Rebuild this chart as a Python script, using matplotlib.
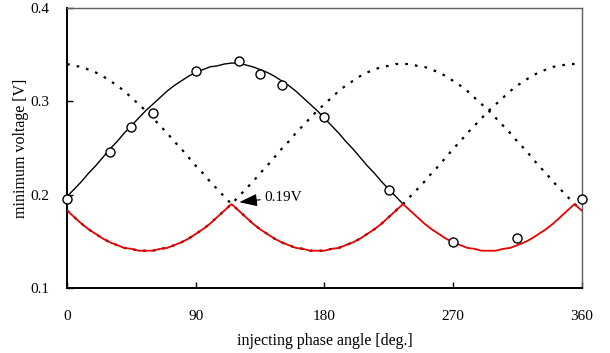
# Minimum voltage versus injecting phase angle, three phase curves and their lower envelope.

import numpy as np
import matplotlib
matplotlib.use("Agg")
import matplotlib.pyplot as plt

plt.rcParams['font.family'] = ['Liberation Serif', 'DejaVu Serif']
plt.rcParams['mathtext.fontset'] = 'stix'

# Angles of the simulated curves (deg.).
angle = list(range(0, 365, 5))

# Curve with maximum near 115 deg. (solid line up to 235 deg.).
curve_a = [0.198, 0.206, 0.214, 0.223, 0.231, 0.240, 0.249, 0.257, 0.266, 0.274,
           0.282, 0.290, 0.297, 0.304, 0.311, 0.317, 0.322, 0.327, 0.331, 0.334,
           0.337, 0.338, 0.340, 0.341, 0.341, 0.339, 0.337, 0.334, 0.331, 0.327,
           0.322, 0.317, 0.311, 0.304, 0.297, 0.290, 0.282, 0.274, 0.266, 0.257,
           0.249, 0.240, 0.231, 0.223, 0.214, 0.206, 0.198, 0.190, 0.183, 0.176,
           0.169, 0.163, 0.158, 0.153, 0.149, 0.146, 0.143, 0.142, 0.140, 0.140,
           0.140, 0.142, 0.143, 0.146, 0.149, 0.153, 0.158, 0.163, 0.169, 0.176,
           0.183, 0.190, 0.198]
# Curve with maximum near 235 deg.
curve_b = [0.183, 0.176, 0.169, 0.163, 0.158, 0.153, 0.149, 0.146, 0.143, 0.142,
           0.140, 0.140, 0.140, 0.142, 0.143, 0.146, 0.149, 0.153, 0.158, 0.163,
           0.169, 0.176, 0.183, 0.190, 0.198, 0.206, 0.214, 0.223, 0.231, 0.240,
           0.249, 0.257, 0.266, 0.274, 0.282, 0.290, 0.297, 0.304, 0.311, 0.317,
           0.322, 0.327, 0.331, 0.334, 0.337, 0.338, 0.340, 0.340, 0.340, 0.338,
           0.337, 0.334, 0.331, 0.327, 0.322, 0.317, 0.311, 0.304, 0.297, 0.290,
           0.282, 0.274, 0.266, 0.257, 0.249, 0.240, 0.231, 0.223, 0.214, 0.206,
           0.198, 0.190, 0.183]
# Curve with maximum near 355 deg.
curve_c = [0.340, 0.338, 0.337, 0.334, 0.331, 0.327, 0.322, 0.317, 0.311, 0.304,
           0.297, 0.290, 0.282, 0.274, 0.266, 0.257, 0.249, 0.240, 0.231, 0.223,
           0.214, 0.206, 0.198, 0.190, 0.183, 0.176, 0.169, 0.163, 0.158, 0.153,
           0.149, 0.146, 0.143, 0.142, 0.140, 0.140, 0.140, 0.142, 0.143, 0.146,
           0.149, 0.153, 0.158, 0.163, 0.169, 0.176, 0.183, 0.190, 0.198, 0.206,
           0.214, 0.223, 0.231, 0.240, 0.249, 0.257, 0.266, 0.274, 0.282, 0.290,
           0.297, 0.304, 0.311, 0.317, 0.322, 0.327, 0.331, 0.334, 0.337, 0.338,
           0.340, 0.340, 0.340]
solid_end = 235

# Measured points.
meas_angle = [0, 30, 45, 60, 90, 120, 135, 150, 180, 225, 270, 315, 360]
meas_volt = [0.195, 0.246, 0.272, 0.287, 0.333, 0.343, 0.329, 0.317, 0.283,
             0.205, 0.149, 0.154, 0.195]

x_ticks = [0, 90, 180, 270, 360]
y_ticks = [0.1, 0.2, 0.3, 0.4]

angle = np.array(angle)
curve_a = np.array(curve_a)
curve_b = np.array(curve_b)
curve_c = np.array(curve_c)
envelope = np.minimum(np.minimum(curve_a, curve_b), curve_c)

fig = plt.figure(figsize=(6.1, 3.53), dpi=100)
ax = fig.add_axes([0.110, 0.184, 0.8436, 0.7933])

dots = (0, (1.2, 3.2))
ax.plot(angle, curve_b, color='black', lw=1.6, linestyle=dots, zorder=2)
ax.plot(angle, curve_c, color='black', lw=1.6, linestyle=dots, zorder=2)
mask = angle <= solid_end
ax.plot(angle[mask], curve_a[mask], color='black', lw=1.0, zorder=3)
ax.plot(angle, envelope, color='#e60000', lw=1.3, zorder=4)
ax.plot(meas_angle, meas_volt, linestyle='none', marker='o', ms=6.5,
        mfc='white', mec='black', mew=1.0, zorder=5, clip_on=False)

ax.annotate('0.19V', xy=(120.5, 0.192), xytext=(138, 0.1975),
            fontsize=11, va='center', ha='left',
            arrowprops=dict(arrowstyle='-|>,head_length=1.0,head_width=0.35',
                            color='black', lw=0.8, shrinkA=1, shrinkB=0))

ax.set_xlim(0, 360)
ax.set_ylim(0.1, 0.4)
ax.set_xticks(x_ticks)
ax.set_yticks(y_ticks)
ax.set_xticklabels([str(t) for t in x_ticks])
ax.set_yticklabels([f"{t:.1f}" for t in y_ticks])
ax.tick_params(axis='both', direction='in', length=4, width=1.0, labelsize=11)
ax.tick_params(axis='x', pad=16)
ax.tick_params(axis='y', pad=13)

for side in ('left', 'bottom'):
    ax.spines[side].set_linewidth(1.4)
for side in ('top', 'right'):
    ax.spines[side].set_linewidth(1.0)
    ax.spines[side].set_color('#606060')

ax.set_xlabel('injecting phase angle [deg.]', fontsize=11.5, labelpad=7)
ax.set_ylabel('minimum voltage [V]', fontsize=11.5, labelpad=1)

fig.savefig('out.png', dpi=100)
